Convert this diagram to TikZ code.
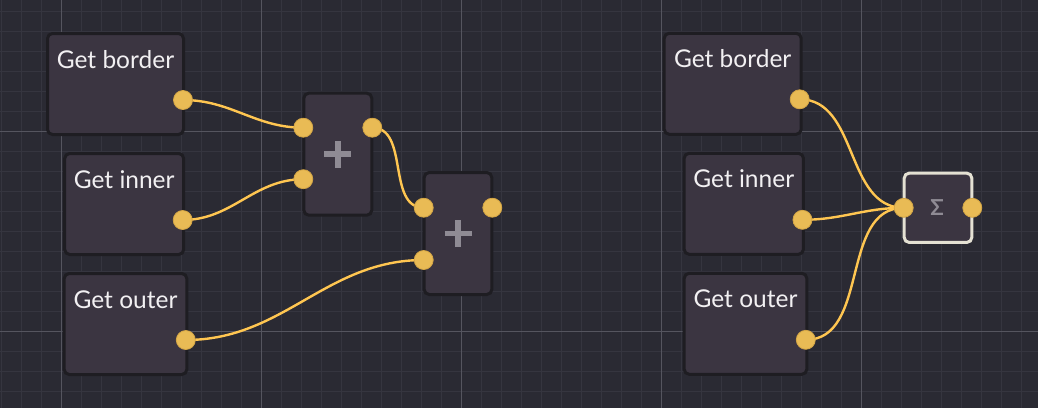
\documentclass[tikz,border=0pt]{standalone}
\usepackage{fontspec}
\setmainfont{Lato}
\usetikzlibrary{calc}
\definecolor{canvas}{HTML}{2A2A33}
\definecolor{gridminor}{HTML}{35353F}
\definecolor{gridmajor}{HTML}{55555F}
\definecolor{blockfill}{HTML}{3B3541}
\definecolor{blockedge}{HTML}{1E1D22}
\definecolor{labeltext}{HTML}{F2F0F2}
\definecolor{portfill}{HTML}{E9BB55}
\definecolor{portedge}{HTML}{D4A646}
\definecolor{wirecol}{HTML}{FFC651}
\definecolor{opglyph}{HTML}{8F8B94}
\definecolor{sumedge}{HTML}{E4E1D3}
\pgfdeclarelayer{grid}
\pgfdeclarelayer{wires}
\pgfsetlayers{grid,wires,main}
\tikzset{
  block/.style={draw=blockedge, fill=blockfill, line width=3pt, rounded corners=5pt,
    inner sep=0pt, minimum height=101pt, text height=34.5pt, text depth=66.5pt,
    text=labeltext, font=\fontsize{24.5}{28}\selectfont},
  opbox/.style={draw=blockedge, fill=blockfill, line width=3pt, rounded corners=5pt, inner sep=0pt},
  port/.style={circle, fill=portfill, draw=portedge, line width=0.8pt, minimum size=19pt, inner sep=0pt},
  wire/.style={draw=wirecol, line width=2.4pt, out=0, in=180},
  plusbar/.style={draw=opglyph, line width=5.5pt},
  minorline/.style={draw=gridminor, line width=1pt},
  majorline/.style={draw=gridmajor, line width=1pt}
}

\begin{document}
\begin{tikzpicture}[x=1pt, y=-1pt]
			%%%%% START %%%%%
			\useasboundingbox (0,0) rectangle (1038,408);
			
			\begin{pgfonlayer}{grid}
			\fill[canvas] (0,0) rectangle (1038,408);
			\foreach \x in {1.5,21.5,...,1038} \draw[minorline] (\x,0) -- (\x,408);
			\foreach \y in {11.5,31.5,...,408} \draw[minorline] (0,\y) -- (1038,\y);
			\foreach \x in {61.5,261.5,...,1038} \draw[majorline] (\x,0) -- (\x,408);
			\foreach \y in {131.5,331.5} \draw[majorline] (0,\y) -- (1038,\y);
			\end{pgfonlayer}
			
			% left graph
			\node[block, minimum width=136pt] (border1) at (115.5,84) {Get border};
			\node[block, minimum width=119pt] (inner1) at (124.2,204) {Get inner};
			\node[block, minimum width=122.6pt] (outer1) at (125.5,324) {Get outer};
			
			\node[opbox, minimum width=68pt, minimum height=122pt] (plusA) at (337.8,154.2) {};
			\draw[plusbar] ([xshift=-13.5pt]plusA.center) -- ([xshift=13.5pt]plusA.center);
			\draw[plusbar] ([yshift=-13.5pt]plusA.center) -- ([yshift=13.5pt]plusA.center);
			
			\node[opbox, minimum width=67.6pt, minimum height=122pt] (plusB) at (458,233.5) {};
			\draw[plusbar] ([xshift=-13.5pt]plusB.center) -- ([xshift=13.5pt]plusB.center);
			\draw[plusbar] ([yshift=-13.5pt]plusB.center) -- ([yshift=13.5pt]plusB.center);
			
			\node[port] (border1-out) at ([xshift=-2pt,yshift=-16pt]border1.east) {};
			\node[port] (inner1-out) at ([xshift=-2.5pt,yshift=-16pt]inner1.east) {};
			\node[port] (outer1-out) at ([xshift=-2.5pt,yshift=-16pt]outer1.east) {};
			\node[port] (plusA-in1) at ([xshift=1pt,yshift=26.5pt]plusA.west) {};
			\node[port] (plusA-in2) at ([xshift=1pt,yshift=-25pt]plusA.west) {};
			\node[port] (plusA-out) at ([xshift=-1pt,yshift=26.5pt]plusA.east) {};
			\node[port] (plusB-in1) at ([xshift=1pt,yshift=25.8pt]plusB.west) {};
			\node[port] (plusB-in2) at ([xshift=1pt,yshift=-26.5pt]plusB.west) {};
			\node[port] (plusB-out) at ([xshift=-1pt,yshift=25.8pt]plusB.east) {};
			
			% right graph
			\node[block, minimum width=137pt] (border2) at (732.7,83.8) {Get border};
			\node[block, minimum width=119.3pt] (inner2) at (743.8,203.8) {Get inner};
			\node[block, minimum width=122.6pt] (outer2) at (745.5,323.8) {Get outer};
			
			\node[opbox, draw=sumedge, minimum width=67.6pt, minimum height=69.3pt] (sum) at (938,207.8) {};
			\node[text=opglyph, font=\fontsize{22}{24}\selectfont\bfseries] (sumsign) at ([xshift=-1pt]sum.center) {Σ};
			
			\node[port] (border2-out) at ([xshift=-3pt,yshift=-15.5pt]border2.east) {};
			\node[port] (inner2-out) at ([xshift=-2.5pt,yshift=-16pt]inner2.east) {};
			\node[port] (outer2-out) at ([xshift=-2.5pt,yshift=-16pt]outer2.east) {};
			\node[port] (sum-in) at ([xshift=1pt]sum.west) {};
			\node[port] (sum-out) at ([xshift=-1pt]sum.east) {};
			
			\begin{pgfonlayer}{wires}
			\draw[wire] (border1-out.center) to (plusA-in1.center);
			\draw[wire] (inner1-out.center) to (plusA-in2.center);
			\draw[wire] (plusA-out.center) to (plusB-in1.center);
			\draw[wire] (outer1-out.center) to (plusB-in2.center);
			\draw[wire] (border2-out.center) to (sum-in.center);
			\draw[wire] (inner2-out.center) to (sum-in.center);
			\draw[wire] (outer2-out.center) to (sum-in.center);
			\end{pgfonlayer}
			
			%%%%% END %%%%%
\end{tikzpicture}
\end{document}
